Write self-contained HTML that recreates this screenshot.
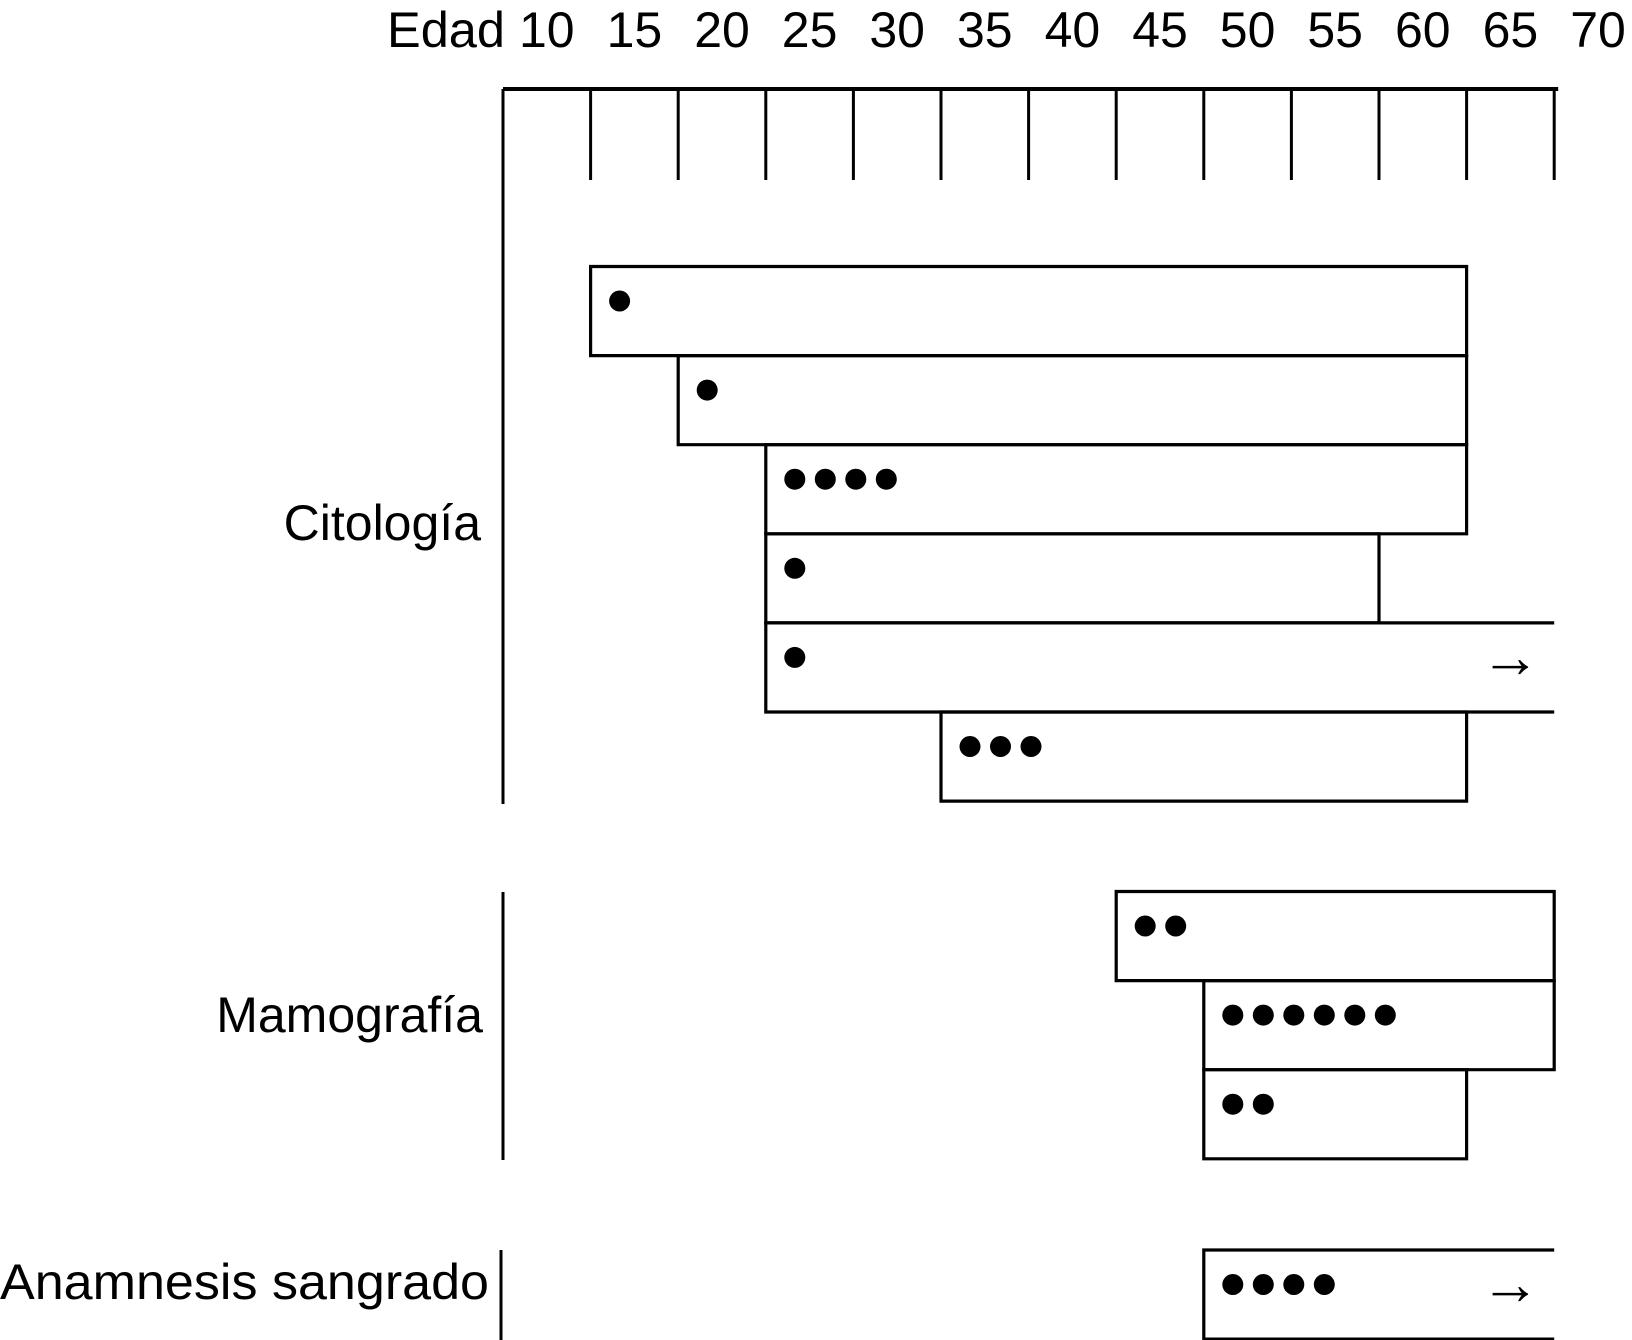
<!DOCTYPE html>
<html><head><meta charset="utf-8">
<style>html,body{margin:0;padding:0;background:#fff}svg{display:block}text{font-family:"Liberation Sans",Arial,sans-serif;fill:#000}</style>
</head><body>
<svg id="chart" width="1632" height="1340" viewBox="0 0 1632 1340" xmlns="http://www.w3.org/2000/svg">
<text x="505" y="47" font-size="50" text-anchor="end" textLength="118" lengthAdjust="spacingAndGlyphs">Edad</text>
<text x="481" y="540" font-size="50" text-anchor="end">Citología</text>
<text x="483" y="1032" font-size="50" text-anchor="end">Mamografía</text>
<text x="489" y="1299" font-size="50" text-anchor="end" textLength="489" lengthAdjust="spacingAndGlyphs">Anamnesis sangrado</text>
</svg>
<script>
const ageTicks = [10,15,20,25,30,35,40,45,50,55,60,65,70];
const barStarts = [15,20,25,25,25,35,45,50,50,50];
const barEnds = [65,65,65,60,70,65,70,70,65,70];
const barDots = [1,1,4,1,1,3,2,6,2,4];
const barOpen = [false,false,false,false,true,false,false,false,false,true];
const barRows = [0,1,2,3,4,5,0,1,2,0];
const barGroups = [0,0,0,0,0,0,1,1,1,2];

const svgEl = document.getElementById('chart');
const NS = 'http://www.w3.org/2000/svg';
const X0 = 503, BW = 87.6;
function xScale(a){ return X0 + (a - 10) / 5 * BW; }
const groupTop = [266.5, 891.5, 1250];
const ROWH = 89.1;
function yScale(g, r){ return groupTop[g] + r * ROWH; }
function mk(tag, attrs){ const e = document.createElementNS(NS, tag); for (const k in attrs) e.setAttribute(k, attrs[k]); svgEl.appendChild(e); return e; }

ageTicks.forEach((a) => {
  const t = mk('text', {x: xScale(a) + BW/2, y: 47, 'font-size': 50, 'text-anchor': 'middle'});
  t.textContent = a;
  
  
});
const topAxis = mk('line', {x1: X0, y1: 89, x2: xScale(70) + 4, y2: 89, stroke: '#000', 'stroke-width': 4});


ageTicks.forEach((a, i) => {
  if (i === 0) return;
  const l = mk('line', {x1: xScale(a), y1: 89, x2: xScale(a), y2: 180, stroke: '#000', 'stroke-width': 3});
  
  
});
const glines = [[503, 89, 804], [503, 892, 1160], [501, 1250, 1340]];
glines.forEach((g) => {
  const l = mk('line', {x1: g[0], y1: g[1], x2: g[0], y2: g[2], stroke: '#000', 'stroke-width': 3});
  
  
});
barStarts.forEach((s, i) => {
  const x1 = xScale(s), x2 = xScale(barEnds[i]);
  const y1 = yScale(barGroups[i], barRows[i]), y2 = y1 + ROWH;
  let d;
  if (barOpen[i]) d = `M${x2} ${y1} H${x1} V${y2} H${x2}`;
  else d = `M${x1} ${y1} H${x2} V${y2} H${x1} Z`;
  const p = mk('path', {d: d, fill: 'none', stroke: '#000', 'stroke-width': 3.2});
  
  
  for (let k = 0; k < barDots[i]; k++) {
    const c = mk('circle', {cx: x1 + 29 + k * 30.5, cy: y1 + 34.5, r: 10.5, fill: '#000'});
    
    
  }
  if (barOpen[i]) {
    const t = mk('text', {x: x2 - 44, y: y1 + 54, 'font-size': 60, 'text-anchor': 'middle'});
    t.textContent = '→';
    
    
  }
});
</script>
</body></html>
